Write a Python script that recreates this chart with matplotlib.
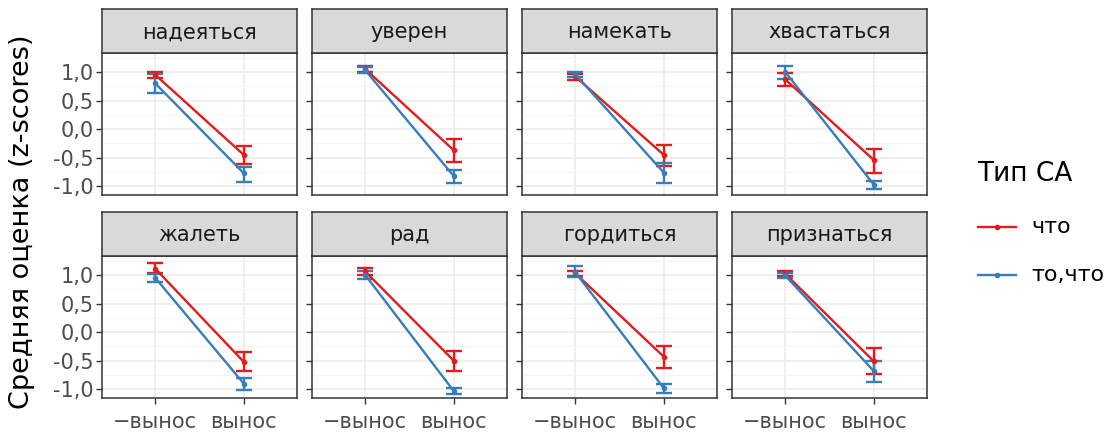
import matplotlib
matplotlib.use("Agg")
import matplotlib.pyplot as plt
from matplotlib.lines import Line2D
from matplotlib.ticker import FixedLocator

plt.rcParams['font.family'] = ['DejaVu Sans']

panels = ["надеяться", "уверен", "намекать", "хвастаться",
          "жалеть", "рад", "гордиться", "признаться"]
x_labels = ["−вынос", "вынос"]
series = ["что", "то,что"]
colors = {"что": "#E41A1C", "то,что": "#377EB8"}

# means [−вынос, вынос]
mean_chto = {
    "надеяться": [0.95, -0.45], "уверен": [1.05, -0.37], "намекать": [0.92, -0.45],
    "хвастаться": [0.87, -0.54], "жалеть": [1.11, -0.52], "рад": [1.06, -0.50],
    "гордиться": [1.03, -0.43], "признаться": [1.02, -0.51],
}
lo_chto = {
    "надеяться": [0.90, -0.61], "уверен": [1.00, -0.58], "намекать": [0.85, -0.64],
    "хвастаться": [0.76, -0.76], "жалеть": [1.03, -0.68], "рад": [1.00, -0.68],
    "гордиться": [0.98, -0.63], "признаться": [0.98, -0.73],
}
hi_chto = {
    "надеяться": [1.00, -0.30], "уверен": [1.10, -0.17], "намекать": [0.97, -0.27],
    "хвастаться": [0.98, -0.34], "жалеть": [1.20, -0.35], "рад": [1.12, -0.33],
    "гордиться": [1.07, -0.24], "признаться": [1.06, -0.28],
}
mean_tochto = {
    "надеяться": [0.80, -0.77], "уверен": [1.03, -0.82], "намекать": [0.96, -0.76],
    "хвастаться": [1.00, -0.97], "жалеть": [0.95, -0.90], "рад": [1.00, -1.03],
    "гордиться": [1.05, -0.98], "признаться": [0.99, -0.68],
}
lo_tochto = {
    "надеяться": [0.64, -0.92], "уверен": [0.98, -0.94], "намекать": [0.91, -0.94],
    "хвастаться": [0.88, -1.04], "жалеть": [0.87, -1.01], "рад": [0.93, -1.08],
    "гордиться": [0.96, -1.06], "признаться": [0.95, -0.87],
}
hi_tochto = {
    "надеяться": [0.96, -0.66], "уверен": [1.08, -0.71], "намекать": [1.00, -0.59],
    "хвастаться": [1.11, -0.90], "жалеть": [1.01, -0.80], "рад": [1.06, -0.98],
    "гордиться": [1.15, -0.91], "признаться": [1.03, -0.50],
}
data = {"что": (mean_chto, lo_chto, hi_chto), "то,что": (mean_tochto, lo_tochto, hi_tochto)}

y_ticks = [-1.0, -0.5, 0.0, 0.5, 1.0]
y_ticklabels = ["-1,0", "-0,5", "0,0", "0,5", "1,0"]

W, H = 1107, 434
fig = plt.figure(figsize=(W / 100, H / 100), dpi=100)

col_x = [102, 312, 522, 732]
pw = 195
rows = [(9, 53, 195), (212, 256, 398)]  # strip top, panel top, panel bottom

for i, name in enumerate(panels):
    r, c = divmod(i, 4)
    st, pt, pb = rows[r]
    x0 = col_x[c]
    ax = fig.add_axes([x0 / W, 1 - pb / H, pw / W, (pb - pt) / H])
    ax.set_facecolor("white")
    ax.set_xlim(0.4, 2.6)
    ax.set_ylim(-1.15, 1.33)
    ax.yaxis.set_major_locator(FixedLocator(y_ticks))
    ax.yaxis.set_minor_locator(FixedLocator([-0.75, -0.25, 0.25, 0.75, 1.25]))
    ax.set_xticks([1, 2])
    ax.grid(True, which="major", color="#EBEBEB", lw=1.1, zorder=0)
    ax.grid(True, which="minor", axis="y", color="#F4F4F4", lw=0.6, zorder=0)
    ax.set_axisbelow(True)
    for sp in ax.spines.values():
        sp.set_color("#333333")
        sp.set_linewidth(1.1)
    ax.tick_params(axis="both", which="major", length=4.3, width=1.0, color="#333333",
                   labelcolor="#4D4D4D")
    ax.tick_params(axis="y", labelsize=15, pad=1.5)
    ax.tick_params(axis="x", labelsize=15, pad=6)
    ax.tick_params(axis="y", which="minor", length=0)
    if c == 0:
        ax.set_yticklabels(y_ticklabels)
    else:
        ax.set_yticklabels([])
    if r == 1:
        ax.set_xticklabels(x_labels)
    else:
        ax.set_xticklabels([])
        ax.tick_params(axis="x", length=0)
    xs = [1, 2]
    for s in series:
        m, lo, hi = data[s]
        ym = m[name]
        err = [[ym[k] - lo[name][k] for k in range(2)], [hi[name][k] - ym[k] for k in range(2)]]
        ax.errorbar(xs, ym, yerr=err, color=colors[s], lw=1.7, elinewidth=1.7,
                    capsize=5.5, capthick=1.7, marker="o", ms=3, zorder=3)
    # strip
    sax = fig.add_axes([x0 / W, 1 - pt / H, pw / W, (pt - st) / H])
    sax.set_facecolor("#D9D9D9")
    sax.set_xticks([]); sax.set_yticks([])
    for sp in sax.spines.values():
        sp.set_color("#333333")
        sp.set_linewidth(1.1)
    sax.text(0.5, 0.47, name, ha="center", va="center", fontsize=15, color="#1A1A1A",
             transform=sax.transAxes)

fig.text(22 / W, 1 - 222 / H, "Средняя оценка (z-scores)", rotation=90, ha="center",
         va="center", fontsize=19.5, color="black")

fig.text(977 / W, 1 - 174 / H, "Тип СА", ha="left", va="center", fontsize=19, color="black")
for j, s in enumerate(series):
    yy = 1 - (227 + j * 48) / H
    fig.add_artist(Line2D([978 / W, 1016 / W], [yy, yy], color=colors[s], lw=1.7))
    fig.add_artist(Line2D([997 / W], [yy], color=colors[s], marker="o", ms=3))
    fig.text(1031 / W, yy, s, ha="left", va="center", fontsize=16, color="black")

fig.savefig("out.png", dpi=100)
